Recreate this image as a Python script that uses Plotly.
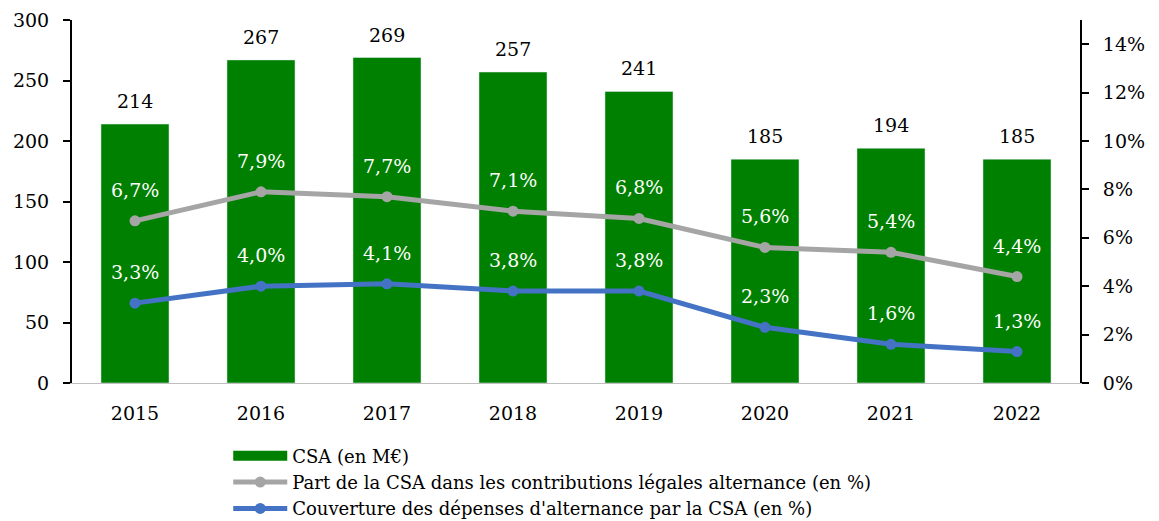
import plotly.graph_objects as go

years = ['2015', '2016', '2017', '2018', '2019', '2020', '2021', '2022']
csa = [214, 267, 269, 257, 241, 185, 194, 185]
part_csa = [0.067, 0.079, 0.077, 0.071, 0.068, 0.056, 0.054, 0.044]
couverture = [0.033, 0.040, 0.041, 0.038, 0.038, 0.023, 0.016, 0.013]

FONT = 'DejaVu Serif'
GREEN = '#008000'

fig = go.Figure()
fig.add_trace(go.Bar(
    x=years, y=csa,
    name='CSA (en M€)',
    marker=dict(color=GREEN),
    showlegend=False,
))
# legend-only entry so the bar key is a wide rectangle like in Excel
fig.add_trace(go.Scatter(
    x=[None], y=[None], mode='lines',
    name='CSA (en M€)',
    line=dict(color=GREEN, width=14),
))
fig.add_trace(go.Scatter(
    x=years, y=part_csa,
    name='Part de la CSA dans les contributions légales alternance (en %)',
    mode='lines+markers',
    line=dict(color='#A5A5A5', width=5),
    marker=dict(size=11, color='#A5A5A5'),
    yaxis='y2',
))
fig.add_trace(go.Scatter(
    x=years, y=couverture,
    name="Couverture des dépenses d'alternance par la CSA (en %)",
    mode='lines+markers',
    line=dict(color='#4472C4', width=5),
    marker=dict(size=11, color='#4472C4'),
    yaxis='y2',
))

# bar values above bars (x = category index)
for i, v in enumerate(csa):
    fig.add_annotation(
        x=i, y=v, xref='x', yref='y',
        text=str(v), showarrow=False,
        yanchor='bottom', yshift=10,
        font=dict(family=FONT, size=19, color='black'),
    )

# white percentage labels above points
for serie in (part_csa, couverture):
    for i, v in enumerate(serie):
        fig.add_annotation(
            x=i, y=v, xref='x', yref='y2',
            text=f'{v*100:.1f}%'.replace('.', ','),
            showarrow=False, yshift=31,
            font=dict(family=FONT, size=19, color='white'),
        )

fig.update_layout(
    width=1151, height=513,
    margin=dict(l=64, r=79, t=12, b=138, autoexpand=False),
    plot_bgcolor='white', paper_bgcolor='white',
    font=dict(family=FONT, size=19, color='black'),
    bargap=0.46,
    showlegend=True,
    legend=dict(
        x=0.155, y=-0.15, xanchor='left', yanchor='top',
        orientation='v',
        font=dict(family=FONT, size=18),
        tracegroupgap=0, itemwidth=54,
    ),
    xaxis=dict(
        type='category', range=[-0.5, 7.5],
        showline=True, linecolor='#BFBFBF', linewidth=1,
        ticks='', ticklabelstandoff=13, tickfont=dict(size=19),
    ),
    yaxis=dict(
        range=[0, 300], dtick=50,
        showline=True, linecolor='black', linewidth=2,
        ticks='outside', ticklen=7, tickwidth=2, tickcolor='black',
        ticklabelstandoff=10,
        showgrid=False, zeroline=False,
        tickfont=dict(size=19),
    ),
    yaxis2=dict(
        overlaying='y', side='right',
        range=[0, 0.15], dtick=0.02, tickformat='.0%',
        showline=True, linecolor='black', linewidth=2,
        ticks='outside', ticklen=7, tickwidth=2, tickcolor='black',
        ticklabelstandoff=10,
        showgrid=False, zeroline=False,
        tickfont=dict(size=19),
    ),
)

fig.write_html('out.html')
